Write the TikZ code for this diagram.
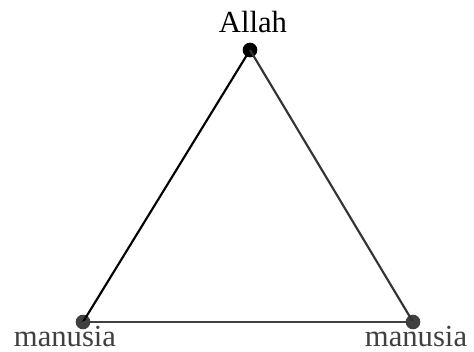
\documentclass[tikz,border=0pt]{standalone}
\usepackage{fontspec}
\setmainfont{Liberation Serif}
\usetikzlibrary{positioning}

\begin{document}
\begin{tikzpicture}[x=0.75pt, y=-0.75pt,
  vertex/.style={circle, fill=black, inner sep=0pt, minimum size=11pt},
  word/.style={anchor=base, font=\fontsize{23}{26}\selectfont, inner sep=0pt}]
  \useasboundingbox (0,0) rectangle (474,352);

  % corners of the triangle
  \node[vertex] (allah) at (250,50) {};
  \node[vertex, fill=black!75] (left) at (83,322) {};
  \node[vertex, fill=black!75] (right) at (413,322) {};

  % sides
  \draw[line width=1.6pt] (allah.center) -- (left.center);
  \draw[line width=1.6pt, black!80] (allah.center) -- (right.center);
  \draw[line width=1.6pt, black!75] (left.center) -- (right.center);

  % labels
  \node[word] (tallah) at (253,33) {Allah};
  \node[word, black!75] (tleft) at (65,346) {manusia};
  \node[word, black!75] (tright) at (416,346) {manusia};
\end{tikzpicture}
\end{document}
